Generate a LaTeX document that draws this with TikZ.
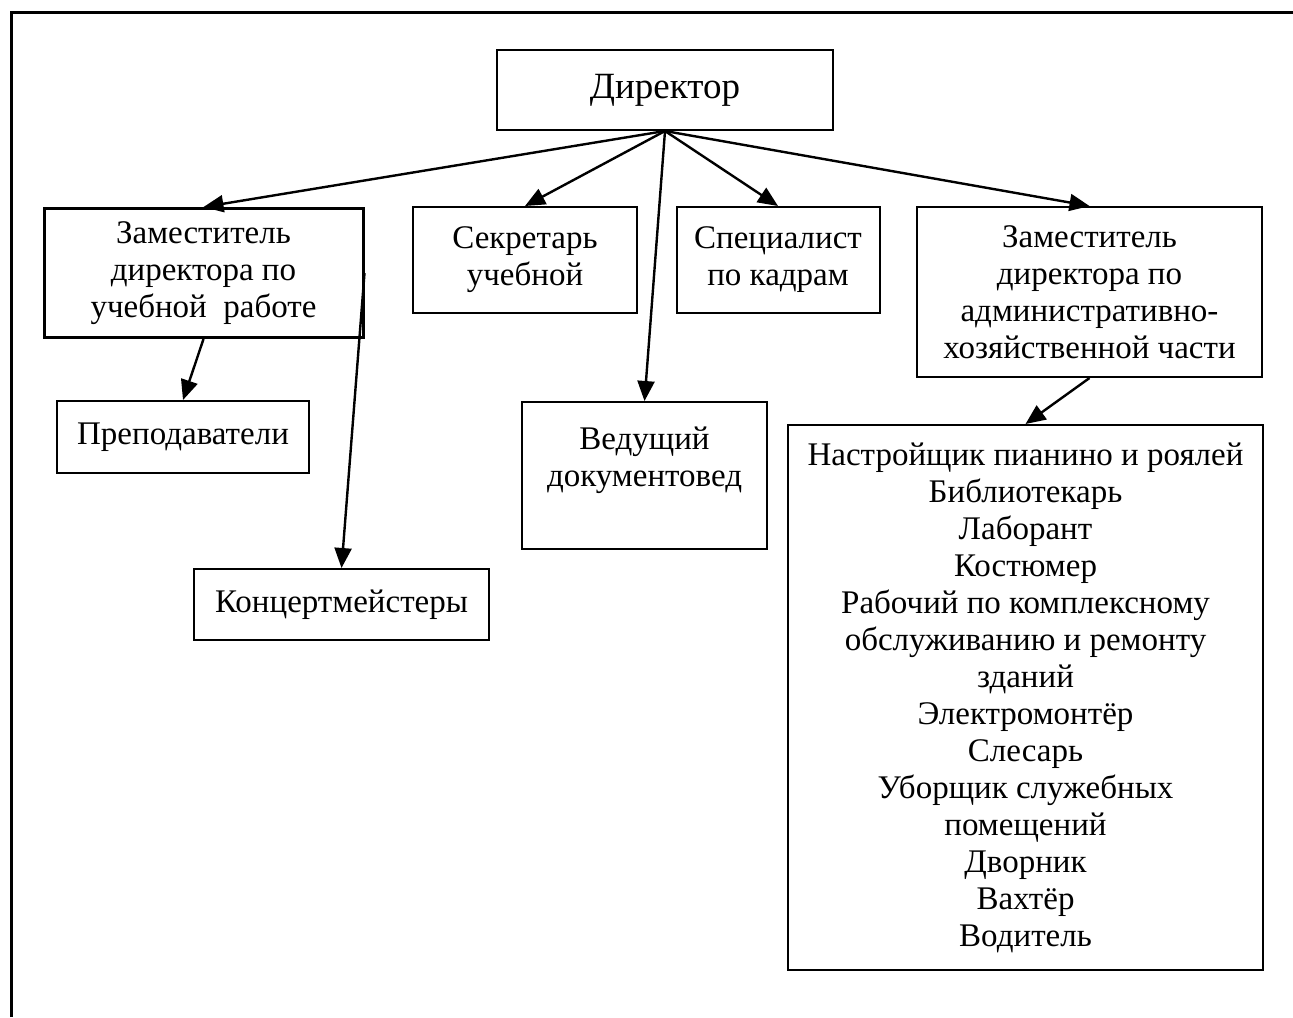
\documentclass[tikz,border=0pt]{standalone}
\usepackage{fontspec}
\setmainfont{Liberation Serif}
\usetikzlibrary{arrows.meta}

\begin{document}
\begin{tikzpicture}[x=0.5pt,y=-0.5pt]
\useasboundingbox (0,0) rectangle (1293,1017);
\draw [line width=1.5pt] (11,1017) -- (11,12) -- (1293,12);

\begin{scope}[every node/.style={rectangle,draw,line width=1pt,inner sep=0pt,align=center,
              font=\fontsize{16.5pt}{18.5pt}\selectfont}]
    \node [minimum width=168pt,minimum height=40pt,font=\fontsize{18.5pt}{20pt}\selectfont] (dir) at (665,90) {Директор};
    \node [minimum width=159.5pt,minimum height=64.5pt,line width=1.5pt] (zamur) at (203.5,273) {Заместитель\\директора по\\учебной\ \ работе};
    \node [minimum width=112pt,minimum height=53pt] (sekr) at (525,260) {Секретарь\\учебной};
    \node [minimum width=101.5pt,minimum height=53pt] (spec) at (778,260) {Специалист\\по кадрам};
    \node [minimum width=172.5pt,minimum height=85pt] (zamahc) at (1089.5,292) {Заместитель\\директора по\\административно-\\хозяйственной части};
    \node [minimum width=126pt,minimum height=36pt] (prep) at (183,437) {Преподаватели};
    \node [minimum width=147.5pt,minimum height=35.5pt] (konc) at (341.5,604.5) {Концертмейстеры};
    \node [minimum width=122.5pt,minimum height=73.5pt] (ved) at (644.5,475.5) {Ведущий\\документовед\\~};
    \node [minimum width=237.5pt,minimum height=272.5pt] (staff) at (1025.5,697.5) {Настройщик пианино и роялей\\Библиотекарь\\Лаборант\\Костюмер\\Рабочий по комплексному\\обслуживанию и ремонту\\зданий\\Электромонтёр\\Слесарь\\Уборщик служебных\\помещений\\Дворник\\Вахтёр\\Водитель};
\end{scope}

\begin{scope}[>={Triangle[length=10pt,width=8.5pt]},
              every edge/.style={draw=black,line width=1.2pt}]
    \path [->] (dir.south) edge (zamur.north);
    \path [->] (dir.south) edge (sekr.north);
    \path [->] (dir.south) edge (ved.north);
    \path [->] (dir.south) edge (spec.north);
    \path [->] (dir.south) edge (zamahc.north);
    \path [->] (zamur.south) edge (prep.north);
    \path [->] (zamur.east) edge (konc.north);
    \path [->] (zamahc.south) edge (staff.north);
\end{scope}
\end{tikzpicture}
\end{document}
